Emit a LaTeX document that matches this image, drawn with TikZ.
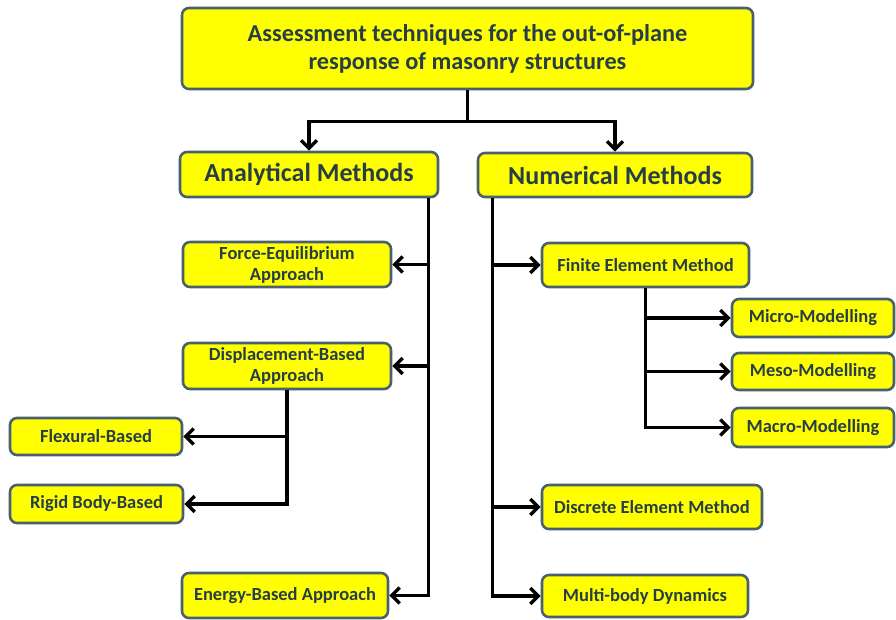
\documentclass[tikz,border=0pt]{standalone}
\usepackage{fontspec}
\setmainfont{Carlito}
\usetikzlibrary{arrows.meta}

\definecolor{boxfill}{RGB}{255,255,0}
\definecolor{boxline}{RGB}{72,96,112}
\definecolor{boxtext}{RGB}{38,62,72}

\begin{document}
\begin{tikzpicture}[
    x=1pt, y=-1pt,
    >={Straight Barb[length=8pt, width=16pt]},
    box/.style   = {draw=boxline, line width=2.6pt, fill=boxfill,
                    rounded corners=7pt, text=boxtext, align=center,
                    inner sep=0pt},
    topbox/.style  = {box, font=\fontsize{24.3}{28}\selectfont\bfseries},
    headbox/.style = {box, font=\fontsize{26}{30}\selectfont\bfseries},
    leafbox/.style = {box, font=\fontsize{18.5}{21}\selectfont\bfseries},
    conn/.style  = {line width=3.4pt, black, ->},
    link/.style  = {line width=3.4pt, black},
  ]

  \useasboundingbox (0,0) rectangle (896,619);

  % --- root and the two families ---------------------------------------------
  \node[topbox, minimum width=571pt, minimum height=81pt] (root) at (467.5,48.5)
    {Assessment techniques for the out-of-plane\\response of masonry structures};
  \node[headbox, minimum width=258pt, minimum height=45pt] (ana) at (309,174.5)
    {Analytical Methods};
  \node[headbox, minimum width=274pt, minimum height=44pt] (num) at (615,175)
    {Numerical Methods};

  % --- analytical branch -------------------------------------------------------
  \node[leafbox, minimum width=208pt, minimum height=45pt] (force) at (287,264.5)
    {Force-Equilibrium\\Approach};
  \node[leafbox, minimum width=208pt, minimum height=46pt] (disp) at (287,366)
    {Displacement-Based\\Approach};
  \node[leafbox, minimum width=172pt, minimum height=37pt] (flex) at (96,436.5)
    {Flexural-Based};
  \node[leafbox, minimum width=173pt, minimum height=38pt] (rigid) at (96.5,504)
    {Rigid Body-Based};
  \node[leafbox, minimum width=206pt, minimum height=45pt] (energy) at (285,595.5)
    {Energy-Based Approach};

  % --- numerical branch --------------------------------------------------------
  \node[leafbox, minimum width=207pt, minimum height=44pt] (fem) at (645.5,265)
    {Finite Element Method};
  \node[leafbox, minimum width=162pt, minimum height=38pt] (micro) at (813,318)
    {Micro-Modelling};
  \node[leafbox, minimum width=162pt, minimum height=37pt] (meso) at (813,371.5)
    {Meso-Modelling};
  \node[leafbox, minimum width=162pt, minimum height=39pt] (macro) at (813,427.5)
    {Macro-Modelling};
  \node[leafbox, minimum width=220pt, minimum height=44pt] (dem) at (652,507)
    {Discrete Element Method};
  \node[leafbox, minimum width=206pt, minimum height=42pt] (mbd) at (645,596)
    {Multi-body Dynamics};

  % --- connectors --------------------------------------------------------------
  \draw[link] (root.south) -- ++(0,31) coordinate (split);
  \draw[conn] (split) -| (ana.north);
  \draw[conn] (split) -| (num.north);

  \coordinate (atrunk) at ([xshift=-11pt]ana.south east);
  \draw[conn] (atrunk) |- (energy.east);
  \foreach \n in {force, disp} {
    \draw[conn] (atrunk |- \n.east) -- (\n.east);
  }

  \draw[conn] (disp.south) |- (rigid.east);
  \draw[conn] (disp.south |- flex.east) -- (flex.east);

  \coordinate (ntrunk) at ([xshift=16pt]num.south west);
  \draw[conn] (ntrunk) |- (mbd.west);
  \foreach \n in {fem, dem} {
    \draw[conn] (ntrunk |- \n.west) -- (\n.west);
  }

  \draw[conn] (fem.south) |- (macro.west);
  \foreach \n in {micro, meso} {
    \draw[conn] (fem.south |- \n.west) -- (\n.west);
  }

\end{tikzpicture}
\end{document}
